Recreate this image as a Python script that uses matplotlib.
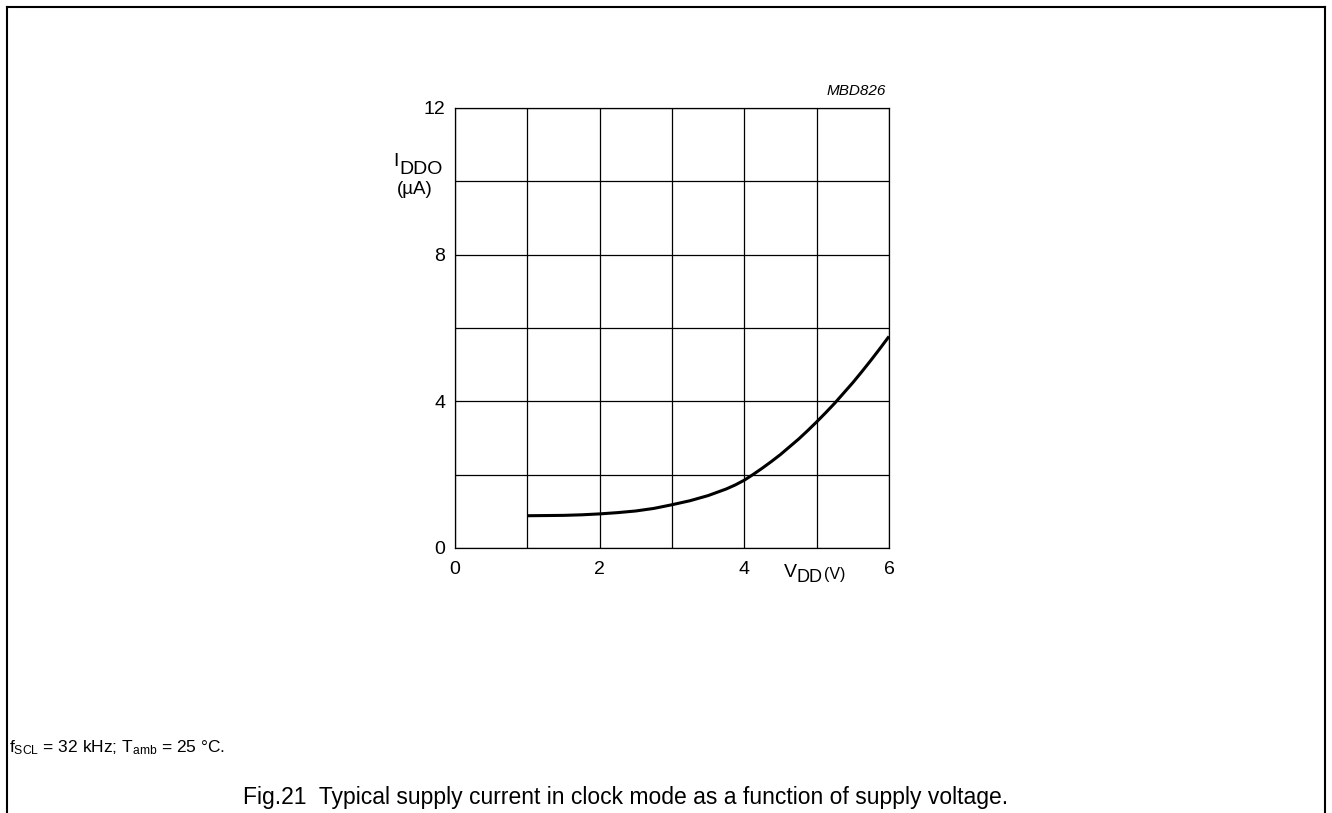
import numpy as np
import matplotlib
matplotlib.use('Agg')
import matplotlib.pyplot as plt
from matplotlib.lines import Line2D

plt.rcParams['font.family'] = ['Liberation Sans', 'DejaVu Sans']
plt.rcParams['mathtext.fontset'] = 'custom'
plt.rcParams['mathtext.rm'] = 'Liberation Sans'
plt.rcParams['mathtext.it'] = 'Liberation Sans:italic'

# supply voltage (V) and supply current in clock mode (uA)
vdd = [1.0, 1.25, 1.5, 1.75, 2.0, 2.25, 2.5, 2.75, 3.0, 3.25, 3.5, 3.75, 3.875,
       4.0, 4.125, 4.25, 4.375, 4.5, 4.625, 4.75, 4.875,
       5.0, 5.125, 5.25, 5.375, 5.5, 5.625, 5.75, 5.875, 6.0]
iddo = [0.88, 0.885, 0.89, 0.905, 0.93, 0.965, 1.01, 1.08, 1.18, 1.29, 1.43, 1.61, 1.72,
        1.85, 2.01, 2.18, 2.36, 2.55, 2.76, 2.97, 3.20,
        3.44, 3.69, 3.95, 4.23, 4.51, 4.81, 5.12, 5.44, 5.77]

x_ticks = [0, 2, 4, 6]
y_ticks = [0, 4, 8, 12]

W, H = 1332, 813
fig = plt.figure(figsize=(W / 100, H / 100), dpi=100)


def fx(px):
    return px / W


def fy(py):
    return 1 - py / H


ax = fig.add_axes([fx(455), fy(548), fx(889) - fx(455), fy(108) - fy(548)])
ax.set_xlim(0, 6)
ax.set_ylim(0, 12)
ax.set_xticks(x_ticks)
ax.set_yticks(y_ticks)
ax.set_xticks(np.arange(0, 7, 1), minor=True)
ax.set_yticks(np.arange(0, 13, 2), minor=True)
ax.grid(True, which='both', color='black', linewidth=0.9)
ax.tick_params(which='both', length=0, labelsize=14)
ax.tick_params(axis='y', pad=7)
ax.tick_params(axis='x', pad=9)
for s in ax.spines.values():
    s.set_linewidth(0.9)

ax.plot(vdd, iddo, color='black', linewidth=2.2, solid_capstyle='butt',
        solid_joinstyle='round')

# y-axis label: I raised, DDO lowered
fig.text(fx(393), fy(162), 'I', fontsize=14, ha='left', va='center')
fig.text(fx(399), fy(169), 'DDO', fontsize=14, ha='left', va='center')
fig.text(fx(415), fy(190), '(µA)', fontsize=13.5, ha='center', va='center')

# x-axis label
fig.text(fx(784), fy(572), 'V', fontsize=14, ha='left', va='center')
fig.text(fx(797), fy(577), 'DD', fontsize=13, ha='left', va='center')
fig.text(fx(824), fy(575), '(V)', fontsize=11.5, ha='left', va='center')

fig.text(fx(886), fy(91), 'MBD826', fontsize=11, style='italic', ha='right', va='center')

fig.text(fx(9), fy(748), r'$\mathregular{f_{SCL}}$ = 32 kHz; $\mathregular{T_{amb}}$ = 25 °C.',
         fontsize=12.5, ha='left', va='center')
fig.text(fx(243), fy(797), 'Fig.21  Typical supply current in clock mode as a function of supply voltage.',
         fontsize=16.5, ha='left', va='center')

# page frame
frame = dict(color='black', linewidth=1.5, transform=fig.transFigure)
fig.add_artist(Line2D([fx(7), fx(7)], [fy(7), 0], **frame))
fig.add_artist(Line2D([fx(7), fx(1325)], [fy(7), fy(7)], **frame))
fig.add_artist(Line2D([fx(1325), fx(1325)], [fy(7), 0], **frame))

fig.savefig('out.png', dpi=100)
